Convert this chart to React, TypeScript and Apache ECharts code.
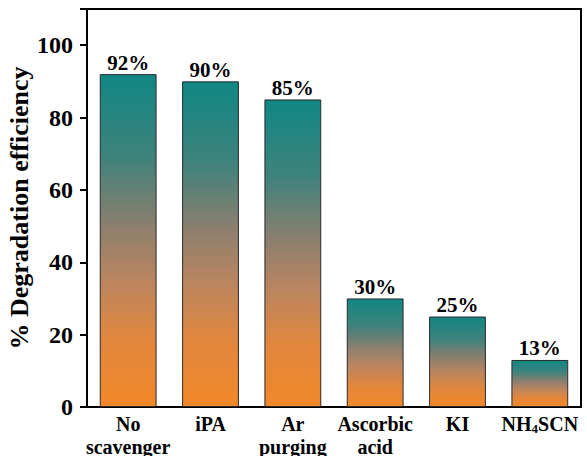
import React, { useEffect, useRef } from "react";
import * as echarts from "echarts";

const categories = ["No\nscavenger", "iPA", "Ar\npurging", "Ascorbic\nacid", "KI", "NH{sub|4}SCN"];
const values = [92, 90, 85, 30, 25, 13];
const yTicks = [0, 20, 40, 60, 80, 100];

const FONT = "'Liberation Serif', 'Times New Roman', serif";

export default function App() {
  const ref = useRef<HTMLDivElement>(null);
  useEffect(() => {
    if (!ref.current) return;
    const chart = echarts.init(ref.current, null, { renderer: "svg" });
    const gradient = new echarts.graphic.LinearGradient(0, 0, 0, 1, [
      { offset: 0, color: "#108783" },
      { offset: 0.25, color: "#3f827c" },
      { offset: 0.45, color: "#8a7f6e" },
      { offset: 0.62, color: "#bb8560" },
      { offset: 0.8, color: "#e2873d" },
      { offset: 1, color: "#f2882a" },
    ]);
    chart.setOption({
      animation: false,
      grid: {
        left: 87,
        right: 6,
        top: 9,
        bottom: 49,
        show: true,
        borderColor: "#000",
        borderWidth: 2,
        containLabel: false,
        outerBoundsMode: "none",
      },
      xAxis: {
        type: "category",
        data: categories,
        axisLine: { show: true, lineStyle: { color: "#000", width: 2 } },
        axisTick: { show: false },
        axisLabel: {
          color: "#000",
          fontFamily: FONT,
          fontWeight: "bold",
          fontSize: 20,
          lineHeight: 23,
          margin: 5,
          interval: 0,
          rich: {
            sub: {
              fontFamily: FONT,
              fontWeight: "bold",
              fontSize: 13,
              color: "#000",
              verticalAlign: "bottom",
              padding: [10, 0, 0, 0],
            },
          },
        },
      },
      yAxis: {
        type: "value",
        min: 0,
        max: 110,
        interval: 20,
        name: "% Degradation efficiency",
        nameLocation: "middle",
        nameGap: 55,
        nameMoveOverlap: false,
        nameTextStyle: {
          color: "#000",
          fontFamily: FONT,
          fontWeight: "bold",
          fontSize: 26,
        },
        splitLine: { show: false },
        axisLine: { show: true, lineStyle: { color: "#000", width: 2 } },
        axisTick: { show: true, length: 7, lineStyle: { color: "#000", width: 2 } },
        axisLabel: {
          color: "#000",
          fontFamily: FONT,
          fontWeight: "bold",
          fontSize: 24,
          margin: 14,
          customValues: yTicks,
        },
        customValues: yTicks,
      },
      series: [
        {
          type: "bar",
          data: values,
          barCategoryGap: "31%",
          itemStyle: {
            color: gradient,
            borderColor: "#2a2a2a",
            borderWidth: 1,
          },
          label: {
            show: true,
            position: "top",
            distance: 1,
            formatter: "{c}%",
            color: "#000",
            fontFamily: FONT,
            fontWeight: "bold",
            fontSize: 21,
          },
        },
      ],
    });
    return () => chart.dispose();
  }, []);
  return (
    <div
      ref={ref}
      style={{ position: "absolute", left: 0, top: 0, width: 587, height: 456 }}
    />
  );
}
